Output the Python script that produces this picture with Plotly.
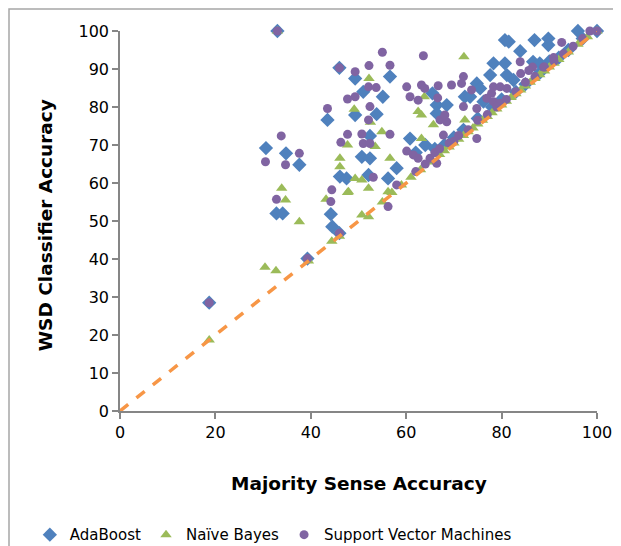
import plotly.graph_objects as go

# ---------------- data ----------------
ada_x = [18.7, 30.6, 32.8, 34.1, 34.8, 37.6, 33.0, 39.3, 44.2, 44.5, 46.0, 46.0, 49.3, 51.0, 55.1,
         56.6, 43.5, 53.8, 49.3, 52.4, 50.7, 52.4, 46.1, 47.5, 52.1, 56.2, 58.0, 60.8, 65.5, 66.4,
         68.5, 66.4, 96.0, 80.7, 81.5, 86.9, 89.8, 89.8, 83.9, 78.3, 80.7, 86.6, 88.0, 77.6, 74.8,
         75.5, 81.1, 82.5, 72.3, 73.4, 76.2, 62.0, 64.0, 66.0, 68.0, 70.0, 72.0, 75.0, 78.0, 80.0,
         83.0, 85.0, 88.0, 90.0, 92.0, 94.0, 97.0, 100.0]
ada_y = [28.5, 69.2, 52.0, 52.0, 67.8, 64.8, 100.0, 40.1, 51.8, 48.5, 46.8, 90.3, 87.5, 84.0, 82.7,
         88.0, 76.6, 78.1, 77.9, 72.4, 66.9, 66.5, 61.7, 61.2, 62.1, 61.2, 63.9, 71.7, 83.6, 80.5,
         80.5, 78.3, 100.0, 97.6, 97.2, 97.6, 98.0, 96.3, 94.7, 91.5, 91.5, 91.9, 91.5, 88.4, 86.2,
         84.9, 88.4, 87.1, 82.7, 82.7, 81.4, 68.0, 70.0, 69.0, 70.0, 72.0, 74.0, 77.0, 80.0, 82.0,
         84.0, 86.0, 89.0, 92.0, 93.0, 95.0, 98.0, 100.0]

nb_x = [18.7, 30.4, 32.7, 33.0, 33.9, 34.7, 37.6, 39.5, 43.2, 44.4, 46.0, 47.7, 46.1, 46.1, 49.3,
        50.7, 52.1, 47.9, 50.7, 52.1, 52.2, 49.1, 52.5, 54.9, 47.7, 53.5, 56.6, 56.2, 63.8, 62.5,
        63.2, 65.7, 63.2, 72.1, 72.3, 55.0, 57.0, 59.0, 61.0, 63.0, 65.0, 67.0, 68.0, 69.0, 70.0,
        71.0, 72.0, 73.0, 74.0, 75.0, 76.0, 77.0, 78.0, 79.0, 80.0, 81.0, 82.0, 83.0, 84.0, 85.0,
        86.0, 87.0, 88.0, 89.0, 90.0, 91.0, 92.0, 94.0, 96.0, 98.0, 100.0]
nb_y = [18.7, 37.8, 36.9, 100.0, 58.6, 55.5, 49.8, 39.5, 55.7, 44.7, 46.0, 57.5, 66.5, 64.3, 61.2,
        60.8, 58.6, 57.7, 51.6, 51.1, 87.5, 79.4, 76.0, 73.5, 70.0, 69.6, 66.5, 57.7, 82.7, 78.8,
        77.9, 75.3, 71.7, 93.2, 76.6, 55.0, 57.5, 59.5, 61.5, 63.5, 65.5, 67.5, 68.5, 69.5, 70.5,
        71.5, 72.5, 73.5, 74.5, 75.5, 76.5, 77.5, 78.5, 79.5, 80.5, 81.5, 82.5, 83.5, 84.5, 85.5,
        86.5, 87.5, 88.5, 89.5, 90.5, 91.5, 92.5, 94.5, 96.5, 98.5, 100.0]

svm_x = [18.7, 33.0, 33.8, 37.6, 30.5, 34.7, 32.8, 44.4, 44.2, 46.0, 39.3, 55.0, 63.6, 46.0, 49.3,
         52.2, 56.6, 52.1, 53.7, 47.7, 49.3, 43.5, 52.4, 52.1, 56.6, 47.7, 50.7, 46.3, 51.0, 52.4,
         60.1, 63.2, 63.9, 66.7, 60.8, 62.5, 66.6, 67.1, 68.5, 60.1, 53.1, 58.0, 56.2, 61.5, 62.5,
         66.4, 98.5, 92.6, 83.9, 86.5, 88.8, 90.9, 72.0, 71.6, 69.5, 73.7, 78.3, 79.7, 81.1, 77.9,
         84.0, 85.7, 72.0, 74.8, 76.9, 78.3, 79.7, 74.8, 67.8, 68.1, 62.0, 64.0, 65.0, 66.0, 67.0,
         69.0, 70.0, 71.0, 73.0, 75.0, 77.0, 79.0, 81.0, 83.0, 85.0, 87.0, 89.0, 91.0, 93.0, 95.0,
         97.0, 100.0]
svm_y = [28.5, 100.0, 72.4, 67.8, 65.6, 64.8, 55.7, 58.2, 55.1, 46.8, 40.1, 94.4, 93.5, 90.3, 89.3,
         90.9, 91.0, 85.3, 85.1, 82.1, 82.7, 79.6, 80.1, 76.6, 72.8, 72.8, 72.9, 70.7, 70.4, 70.4,
         85.3, 85.8, 84.9, 85.6, 82.7, 81.8, 82.4, 76.6, 76.1, 68.4, 61.5, 59.5, 53.8, 67.4, 66.5,
         65.2, 100.0, 97.0, 91.9, 90.5, 90.5, 93.0, 88.0, 86.2, 85.8, 84.5, 85.3, 85.3, 84.9, 83.6,
         88.8, 89.6, 80.1, 79.6, 82.3, 81.4, 81.0, 71.7, 72.6, 77.9, 63.0, 65.0, 66.5, 68.0, 69.0,
         70.5, 71.0, 72.5, 74.0, 76.5, 78.0, 80.0, 82.0, 84.0, 86.5, 88.0, 90.5, 92.0, 94.0, 96.0,
         98.0, 100.0]

line_x = [0, 100]
line_y = [0, 100]

tick_vals_x = [0, 20, 40, 60, 80, 100]
tick_vals_y = [0, 10, 20, 30, 40, 50, 60, 70, 80, 90, 100]

FONT = "DejaVu Sans, Verdana, sans-serif"

fig = go.Figure()
fig.add_trace(go.Scatter(x=ada_x, y=ada_y, mode="markers", name="AdaBoost", cliponaxis=False,
                         marker=dict(symbol="diamond", size=11, color="#4F81BD", line=dict(width=0))))
fig.add_trace(go.Scatter(x=nb_x, y=nb_y, mode="markers", name="Naïve Bayes", cliponaxis=False,
                         marker=dict(symbol="triangle-up", size=10, color="#9BBB59", line=dict(width=0))))
fig.add_trace(go.Scatter(x=svm_x, y=svm_y, mode="markers", name="Support Vector Machines", cliponaxis=False,
                         marker=dict(symbol="circle", size=9, color="#8064A2", line=dict(width=0))))
fig.add_trace(go.Scatter(x=line_x, y=line_y, mode="lines", showlegend=False, hoverinfo="skip",
                         line=dict(color="#F79646", width=3.5, dash="dash")))

axis_common = dict(showgrid=False, zeroline=False, showline=True, linecolor="#868686", linewidth=1.5,
                   ticks="outside", ticklen=6, tickcolor="#868686", tickwidth=1.5, automargin=False,
                   tickfont=dict(family=FONT, size=16, color="#000000"))

fig.update_xaxes(range=[0, 100], tickvals=tick_vals_x, **axis_common)
fig.update_yaxes(range=[0, 100], tickvals=tick_vals_y, **axis_common)

fig.update_layout(
    width=613, height=538,
    margin=dict(l=112, r=24, t=23, b=135, autoexpand=False),
    plot_bgcolor="white", paper_bgcolor="white",
    font=dict(family=FONT, color="#000000"),
    legend=dict(orientation="h", x=-0.189, xanchor="left",
                y=-0.326, yanchor="middle",
                font=dict(family=FONT, size=15, color="#000000"), itemwidth=30,
                bgcolor="rgba(0,0,0,0)", tracegroupgap=0),
    annotations=[
        dict(text="<b>Majority Sense Accuracy</b>", xref="paper", yref="paper", x=0.5, y=-0.192,
             xanchor="center", yanchor="middle", showarrow=False,
             font=dict(family=FONT, size=18.5, color="#000000")),
        dict(text="<b>WSD Classifier Accuracy</b>", xref="paper", yref="paper", x=-0.157, y=0.489,
             xanchor="center", yanchor="middle", showarrow=False, textangle=-90,
             font=dict(family=FONT, size=18.5, color="#000000")),
    ],
    shapes=[dict(type="rect", xref="paper", yref="paper", x0=-0.2327, x1=1.2, y0=-0.5, y1=1.0579,
                 line=dict(color="#A6A6A6", width=1.5), fillcolor="rgba(0,0,0,0)", layer="below")],
)

fig.write_html("out.html")
